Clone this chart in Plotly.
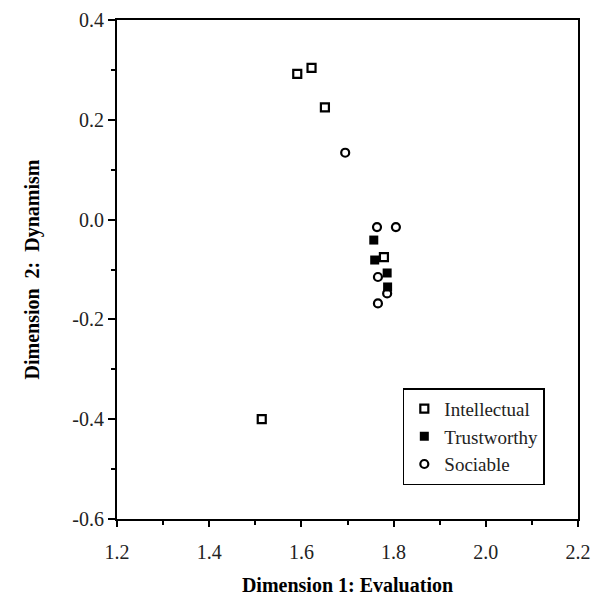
import plotly.graph_objects as go

# Data
intellectual_x = [1.591, 1.622, 1.651, 1.514, 1.779]
intellectual_y = [0.292, 0.304, 0.225, -0.400, -0.075]

trustworthy_x = [1.757, 1.759, 1.786, 1.787]
trustworthy_y = [-0.041, -0.081, -0.107, -0.135]

sociable_x = [1.695, 1.764, 1.805, 1.766, 1.786, 1.766]
sociable_y = [0.134, -0.015, -0.015, -0.115, -0.148, -0.168]

x_ticks = [1.2, 1.4, 1.6, 1.8, 2.0, 2.2]
y_ticks = [-0.6, -0.4, -0.2, 0.0, 0.2, 0.4]

FONT = "Liberation Serif, Times New Roman, serif"

fig = go.Figure()
fig.add_trace(go.Scatter(
    x=intellectual_x, y=intellectual_y, mode="markers", name="Intellectual",
    legendgroup="a",
    marker=dict(symbol="square-open", size=8, color="black", line=dict(width=2.2, color="black")),
))
fig.add_trace(go.Scatter(
    x=trustworthy_x, y=trustworthy_y, mode="markers", name="Trustworthy",
    legendgroup="b",
    marker=dict(symbol="square", size=9, color="black", line=dict(width=0)),
))
fig.add_trace(go.Scatter(
    x=sociable_x, y=sociable_y, mode="markers", name="Sociable",
    legendgroup="c",
    marker=dict(symbol="circle-open", size=8, color="black", line=dict(width=2.2, color="black")),
))

fig.update_layout(
    width=615, height=596,
    margin=dict(l=109, r=45, t=12, b=85),
    paper_bgcolor="white", plot_bgcolor="white",
    font=dict(family=FONT, size=20, color="black"),
    showlegend=True,
    legend=dict(
        x=0.62, y=0.262, xanchor="left", yanchor="top",
        bordercolor="black", borderwidth=1.5, bgcolor="white",
        font=dict(family=FONT, size=19, color="#222"),
        tracegroupgap=0, itemsizing="trace", itemwidth=30,
    ),
    xaxis=dict(
        range=[1.2, 2.2], tickvals=x_ticks, ticktext=[f"{v:.1f}" for v in x_ticks],
        showgrid=False, zeroline=False, showline=True, linecolor="black", linewidth=2,
        mirror=True, ticks="outside", ticklen=6, tickwidth=1.5, tickcolor="black",
        minor=dict(dtick=0.1, ticks="outside", ticklen=4, tickwidth=1.5, tickcolor="black"),
        title=dict(text="<b>Dimension 1: Evaluation</b>", font=dict(family=FONT, size=20), standoff=16),
        tickfont=dict(family=FONT, size=20, color="#222"),
        ticklabelstandoff=8,
        automargin=False,
    ),
    yaxis=dict(
        range=[-0.6, 0.4], tickvals=y_ticks, ticktext=[f"{v:.1f}" for v in y_ticks],
        showgrid=False, zeroline=False, showline=True, linecolor="black", linewidth=2,
        mirror=True, ticks="outside", ticklen=7, tickwidth=1.5, tickcolor="black",
        minor=dict(dtick=0.1, ticks="outside", ticklen=4, tickwidth=1.5, tickcolor="black"),
        title=dict(text="<b>Dimension&nbsp;&nbsp;2:&nbsp;&nbsp;Dynamism</b>", font=dict(family=FONT, size=20), standoff=27),
        tickfont=dict(family=FONT, size=20, color="#222"),
        automargin=False,
    ),
)

fig.write_html("out.html")
